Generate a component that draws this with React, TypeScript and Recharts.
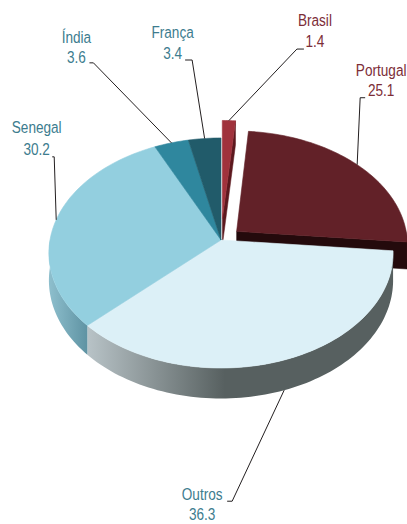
import { PieChart, Pie } from "recharts";

// shares in %, clockwise from 12 o'clock
const NAMES = ["Brasil", "Portugal", "Outros", "Senegal", "Índia", "França"];
const VALUES = [1.4, 25.1, 36.3, 30.2, 3.6, 3.4];

const TOP_COLORS: Record<string, string> = {
  Brasil: "#a0323c",
  Portugal: "#622128",
  Outros: "#dcf0f7",
  Senegal: "#93cfdf",
  "Índia": "#2f879e",
  "França": "#215b6a",
};

// [light, dark] for the side walls
const WALL_COLORS: Record<string, [string, string]> = {
  Brasil: ["#7a222a", "#5c181e"],
  Portugal: ["#2e0c10", "#240a0c"],
  Outros: ["#b8c3c7", "#576060"],
  Senegal: ["#8ebfcd", "#5f93a3"],
  "Índia": ["#246d80", "#1c5a6a"],
  "França": ["#184653", "#123842"],
};

const EXPLODE: Record<string, number> = { Brasil: 0.195, Portugal: 0.12 };

const MAROON = "#7c2d37";
const TEAL = "#3c7c8e";
const LABEL_COLOR: Record<string, string> = {
  Brasil: MAROON,
  Portugal: MAROON,
  Outros: TEAL,
  Senegal: TEAL,
  "Índia": TEAL,
  "França": TEAL,
};

// leader line: anchor -> elbow (ex, ey) -> horizontal h, text centred at +t, baselines b1/b2 from elbow
const LABEL_LAYOUT: Record<string, { ex: number; ey: number; h: number; t: number; b1: number; b2: number }> = {
  Brasil: { ex: 68, ey: -71.5, h: 7, t: 11, b1: -23, b2: -2 },
  Portugal: { ex: 3, ey: -67, h: 5, t: 16, b1: -22, b2: -2 },
  "França": { ex: -12.5, ey: -78.5, h: -7, t: -12.5, b1: -22, b2: -1 },
  "Índia": { ex: -78, ey: -80, h: -4, t: -13, b1: -20, b2: 0 },
  Senegal: { ex: -2, ey: -63, h: -2, t: -15.5, b1: -24, b2: -2 },
  Outros: { ex: -52, ey: 111, h: -5, t: -25, b1: -1, b2: 19 },
};

const data = NAMES.map((name, i) => ({ name, value: VALUES[i] }));

const RAD = Math.PI / 180;
const TILT = 0.664; // vertical radius / horizontal radius
const PERSP = 0.113; // perspective foreshortening toward the back
const DEPTH = 27;
const FONT = "'Liberation Sans', Arial, sans-serif";

// project a point of the unit disc (u right, v back) at depth z (0 top, 1 bottom)
function proj(cx: number, cy: number, r: number, u: number, v: number, z = 0): [number, number] {
  const w = 1 + PERSP * v;
  return [cx + (r * u) / w, cy - (r * TILT * v) / w + (DEPTH * z) / w];
}

function centre(name: string, mid: number): [number, number] {
  const e = EXPLODE[name] || 0;
  return [e * Math.cos(mid * RAD), e * Math.sin(mid * RAD)];
}

function rim(cx: number, cy: number, r: number, c: [number, number], deg: number, z = 0) {
  return proj(cx, cy, r, c[0] + Math.cos(deg * RAD), c[1] + Math.sin(deg * RAD), z);
}

function arc(cx: number, cy: number, r: number, c: [number, number], from: number, to: number, z = 0) {
  const n = Math.max(2, Math.ceil(Math.abs(to - from) / 1.5));
  const out: [number, number][] = [];
  for (let i = 0; i <= n; i++) out.push(rim(cx, cy, r, c, from + ((to - from) * i) / n, z));
  return out;
}

const toPath = (pts: [number, number][]) =>
  pts.map((p, i) => `${i ? "L" : "M"}${p[0].toFixed(2)},${p[1].toFixed(2)}`).join(" ") + " Z";

function TopShape(props: any) {
  const { cx, cy, outerRadius: r, startAngle: s, endAngle: e, name } = props;
  const c = centre(name, (s + e) / 2);
  const pts: [number, number][] = [proj(cx, cy, r, c[0], c[1]), ...arc(cx, cy, r, c, s, e)];
  const col = TOP_COLORS[name];
  return <path d={toPath(pts)} fill={col} stroke={col} strokeWidth={0.6} />;
}

function WallShape(props: any) {
  const { cx, cy, outerRadius: r, startAngle: s, endAngle: e, name } = props;
  const c = centre(name, (s + e) / 2);
  const [light, dark] = WALL_COLORS[name];
  const id = `wall-${NAMES.indexOf(name)}`;
  const parts: JSX.Element[] = [];

  // radial walls of exploded slices
  if (EXPLODE[name]) {
    const o0 = proj(cx, cy, r, c[0], c[1]);
    const o1 = proj(cx, cy, r, c[0], c[1], 1);
    const radial = (deg: number, key: string) => {
      parts.push(
        <path
          key={key}
          d={toPath([o0, rim(cx, cy, r, c, deg), rim(cx, cy, r, c, deg, 1), o1])}
          fill={dark}
          stroke={dark}
          strokeWidth={0.5}
        />
      );
    };
    if (Math.cos(e * RAD) > 0) radial(e, "re");
    if (Math.cos(s * RAD) < 0) radial(s, "rs");
  }

  // outer wall on the front half
  const lo = Math.max(e, -180);
  const hi = Math.min(s, 0);
  let grad = null;
  if (lo < hi) {
    const top = arc(cx, cy, r, c, hi, lo);
    const bottom = arc(cx, cy, r, c, lo, hi, 1);
    const xs = top.map((p) => p[0]);
    grad = (
      <linearGradient id={id} gradientUnits="userSpaceOnUse" x1={Math.min(...xs)} y1={0} x2={Math.max(...xs)} y2={0}>
        <stop offset="0" stopColor={light} />
        <stop offset={name === "Outros" ? "0.45" : "1"} stopColor={dark} />
        <stop offset="1" stopColor={dark} />
      </linearGradient>
    );
    parts.push(<path key="outer" d={toPath([...top, ...bottom])} fill={`url(#${id})`} stroke="none" />);
  }

  return (
    <g>
      {grad && <defs>{grad}</defs>}
      {parts}
    </g>
  );
}

function renderLabel(props: any) {
  const { cx, cy, outerRadius: r, midAngle, name, value } = props;
  const c = centre(name, midAngle);
  const front = Math.sin(midAngle * RAD) < 0 ? 1 : 0;
  const [ax, ay] = rim(cx, cy, r, c, midAngle, front);
  const L = LABEL_LAYOUT[name];
  const ex = ax + L.ex;
  const ey = ay + L.ey;
  const hx = ex + L.h;
  const tx = hx + L.t;
  const color = LABEL_COLOR[name];
  const txt = (y: number, s: string) => (
    <text
      transform={`translate(${tx.toFixed(2)},${y.toFixed(2)}) scale(0.8,1)`}
      textAnchor="middle"
      fill={color}
      fontSize={17}
      fontFamily={FONT}
    >
      {s}
    </text>
  );
  return (
    <g key={`label-${name}`}>
      <polyline points={`${ax},${ay} ${ex},${ey} ${hx},${ey}`} fill="none" stroke="#231f20" strokeWidth={1} />
      {txt(ey + L.b1, name)}
      {txt(ey + L.b2, Number(value).toFixed(1))}
    </g>
  );
}

export default function App() {
  return (
    <div style={{ position: "absolute", left: 0, top: 0, width: 407, height: 524, background: "#fff" }}>
      <PieChart width={407} height={524} margin={{ top: 0, right: 0, bottom: 0, left: 0 }}>
        <Pie
          data={data}
          dataKey="value"
          nameKey="name"
          cx={221}
          cy={240}
          outerRadius={171}
          startAngle={90}
          endAngle={-270}
          stroke="none"
          shape={WallShape}
          label={false}
          labelLine={false}
          isAnimationActive={false}
        />
        <Pie
          data={data}
          dataKey="value"
          nameKey="name"
          cx={221}
          cy={240}
          outerRadius={171}
          startAngle={90}
          endAngle={-270}
          stroke="none"
          shape={TopShape}
          label={renderLabel}
          labelLine={false}
          isAnimationActive={false}
        />
      </PieChart>
    </div>
  );
}
